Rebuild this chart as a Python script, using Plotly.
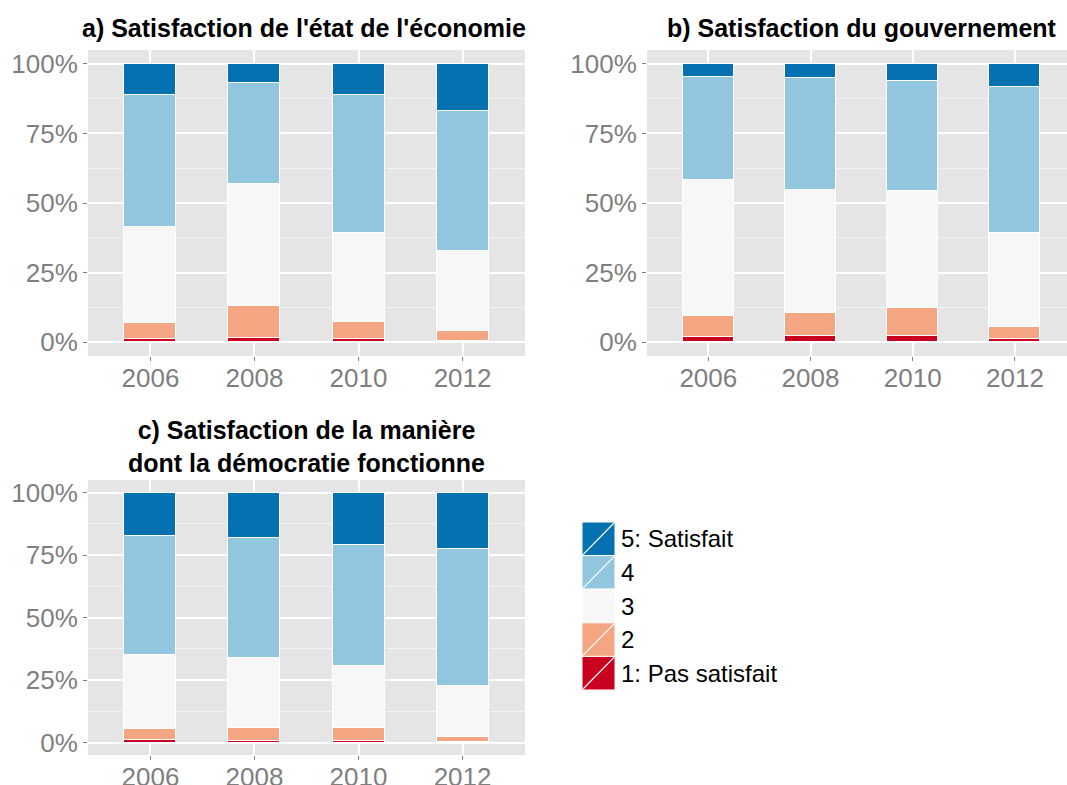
import plotly.graph_objects as go

W, H = 1067, 785

years = ["2006", "2008", "2010", "2012"]
levels = ["1: Pas satisfait", "2", "3", "4", "5: Satisfait"]
colors = ["#ca0020", "#f4a582", "#f7f7f7", "#92c5de", "#0571b0"]

# a) economy (percent per level, bottom to top)
econ_1 = [1.1, 1.6, 1.1, 0.3]
econ_2 = [5.9, 11.5, 6.2, 3.6]
econ_3 = [34.4, 43.9, 32.0, 28.9]
econ_4 = [47.5, 36.2, 49.4, 50.4]
econ_5 = [11.1, 6.8, 11.3, 16.8]

# b) government
gov_1 = [1.7, 2.1, 2.2, 1.0]
gov_2 = [7.8, 8.5, 10.0, 4.5]
gov_3 = [48.6, 43.9, 42.1, 33.8]
gov_4 = [37.2, 40.5, 39.5, 52.4]
gov_5 = [4.7, 5.0, 6.2, 8.3]

# c) democracy
dem_1 = [1.2, 0.8, 0.8, 0.3]
dem_2 = [4.1, 4.9, 4.9, 2.1]
dem_3 = [29.6, 28.2, 24.9, 20.4]
dem_4 = [47.6, 48.0, 48.5, 54.6]
dem_5 = [17.5, 18.1, 20.9, 22.6]

y_ticks = [0, 25, 50, 75, 100]
y_ticktext = ["0%", "25%", "50%", "75%", "100%"]

titles = [
    "a) Satisfaction de l'état de l'économie",
    "b) Satisfaction du gouvernement",
    "c) Satisfaction de la manière<br>dont la démocratie fonctionne",
]

panels = [
    [econ_1, econ_2, econ_3, econ_4, econ_5],
    [gov_1, gov_2, gov_3, gov_4, gov_5],
    [dem_1, dem_2, dem_3, dem_4, dem_5],
]

FONT = "Liberation Sans, Arial, sans-serif"

fig = go.Figure()
for p, series in enumerate(panels):
    ax = "" if p == 0 else str(p + 1)
    for lvl, vals in enumerate(series):
        fig.add_trace(go.Bar(
            x=years, y=vals, name=levels[lvl],
            marker=dict(color=colors[lvl], line=dict(color="white", width=1)),
            width=0.5, xaxis="x" + ax, yaxis="y" + ax, showlegend=False,
            hovertemplate="%{x}: %{y:.1f}%<extra>" + levels[lvl] + "</extra>",
        ))

def px_x(v):
    return v / W

def px_y(v):
    return 1 - v / H

# plot-area boxes in pixels: (left, right, top, bottom)
boxes = [(88, 525, 50, 356), (647, 1067, 50, 356), (88, 525, 480, 755)]
xranges = [[-0.6, 3.6], [-0.6, -0.6 + 420 / 102.2], [-0.6, 3.6]]

layout = dict(
    width=W, height=H, margin=dict(l=0, r=0, t=0, b=0, autoexpand=False),
    paper_bgcolor="white", plot_bgcolor="#e5e5e5",
    barmode="stack", bargap=0, showlegend=False,
    font=dict(family=FONT),
)

for p, (l, r, t, b) in enumerate(boxes):
    ax = "" if p == 0 else str(p + 1)
    layout["xaxis" + ax] = dict(
        domain=[px_x(l), px_x(r)], anchor="y" + ax, type="category",
        categoryorder="array", categoryarray=years, range=xranges[p],
        showgrid=True, gridcolor="white", gridwidth=1.6,
        ticks="outside", ticklen=4, tickwidth=1, tickcolor="#7f7f7f",
        ticklabelstandoff=-5,
        tickfont=dict(size=26, color="#7f7f7f", family=FONT),
        showline=False, zeroline=False, fixedrange=True, automargin=False,
    )
    layout["yaxis" + ax] = dict(
        domain=[px_y(b), px_y(t)], anchor="x" + ax,
        range=[-5, 105], tickvals=y_ticks, ticktext=y_ticktext,
        showgrid=True, gridcolor="white", gridwidth=1.6,
        minor=dict(tickvals=[12.5, 37.5, 62.5, 87.5], showgrid=True,
                   gridcolor="#f2f2f2", gridwidth=0.8, ticks=""),
        ticks="outside", ticklen=4, tickwidth=1, tickcolor="#7f7f7f",
        tickfont=dict(size=26, color="#7f7f7f", family=FONT),
        showline=False, zeroline=False, fixedrange=True, automargin=False,
    )

fig.update_layout(**layout)

# titles
title_pos = [(304, 28), (862, 28), (306.5, 446)]
for txt, (cx, cy) in zip(titles, title_pos):
    fig.add_annotation(
        x=px_x(cx), y=px_y(cy), xref="paper", yref="paper",
        text="<b>" + txt + "</b>", showarrow=False,
        xanchor="center", yanchor="middle",
        font=dict(size=25, color="black", family=FONT),
    )

# legend (drawn manually, top item = 5: Satisfait)
key_l, key_r = 582, 615
key_top, key_h = 522, 33.6
for i in range(5):
    lvl = 4 - i
    y0 = key_top + i * key_h
    y1 = y0 + key_h
    fig.add_shape(type="rect", xref="paper", yref="paper",
                  x0=px_x(key_l), x1=px_x(key_r), y0=px_y(y1), y1=px_y(y0),
                  fillcolor=colors[lvl], line=dict(color="white", width=1))
    fig.add_shape(type="line", xref="paper", yref="paper",
                  x0=px_x(key_l + 1), x1=px_x(key_r - 1),
                  y0=px_y(y1 - 1), y1=px_y(y0 + 1),
                  line=dict(color="white", width=1.2))
    fig.add_annotation(x=px_x(619), y=px_y((y0 + y1) / 2), xref="paper", yref="paper",
                       text=levels[lvl], showarrow=False, xanchor="left", yanchor="middle",
                       font=dict(size=24, color="black", family=FONT))

fig.write_html(
    "out.html",
    config={"displayModeBar": False},
    post_script="document.body.style.margin='0';document.body.style.overflow='hidden';",
)
